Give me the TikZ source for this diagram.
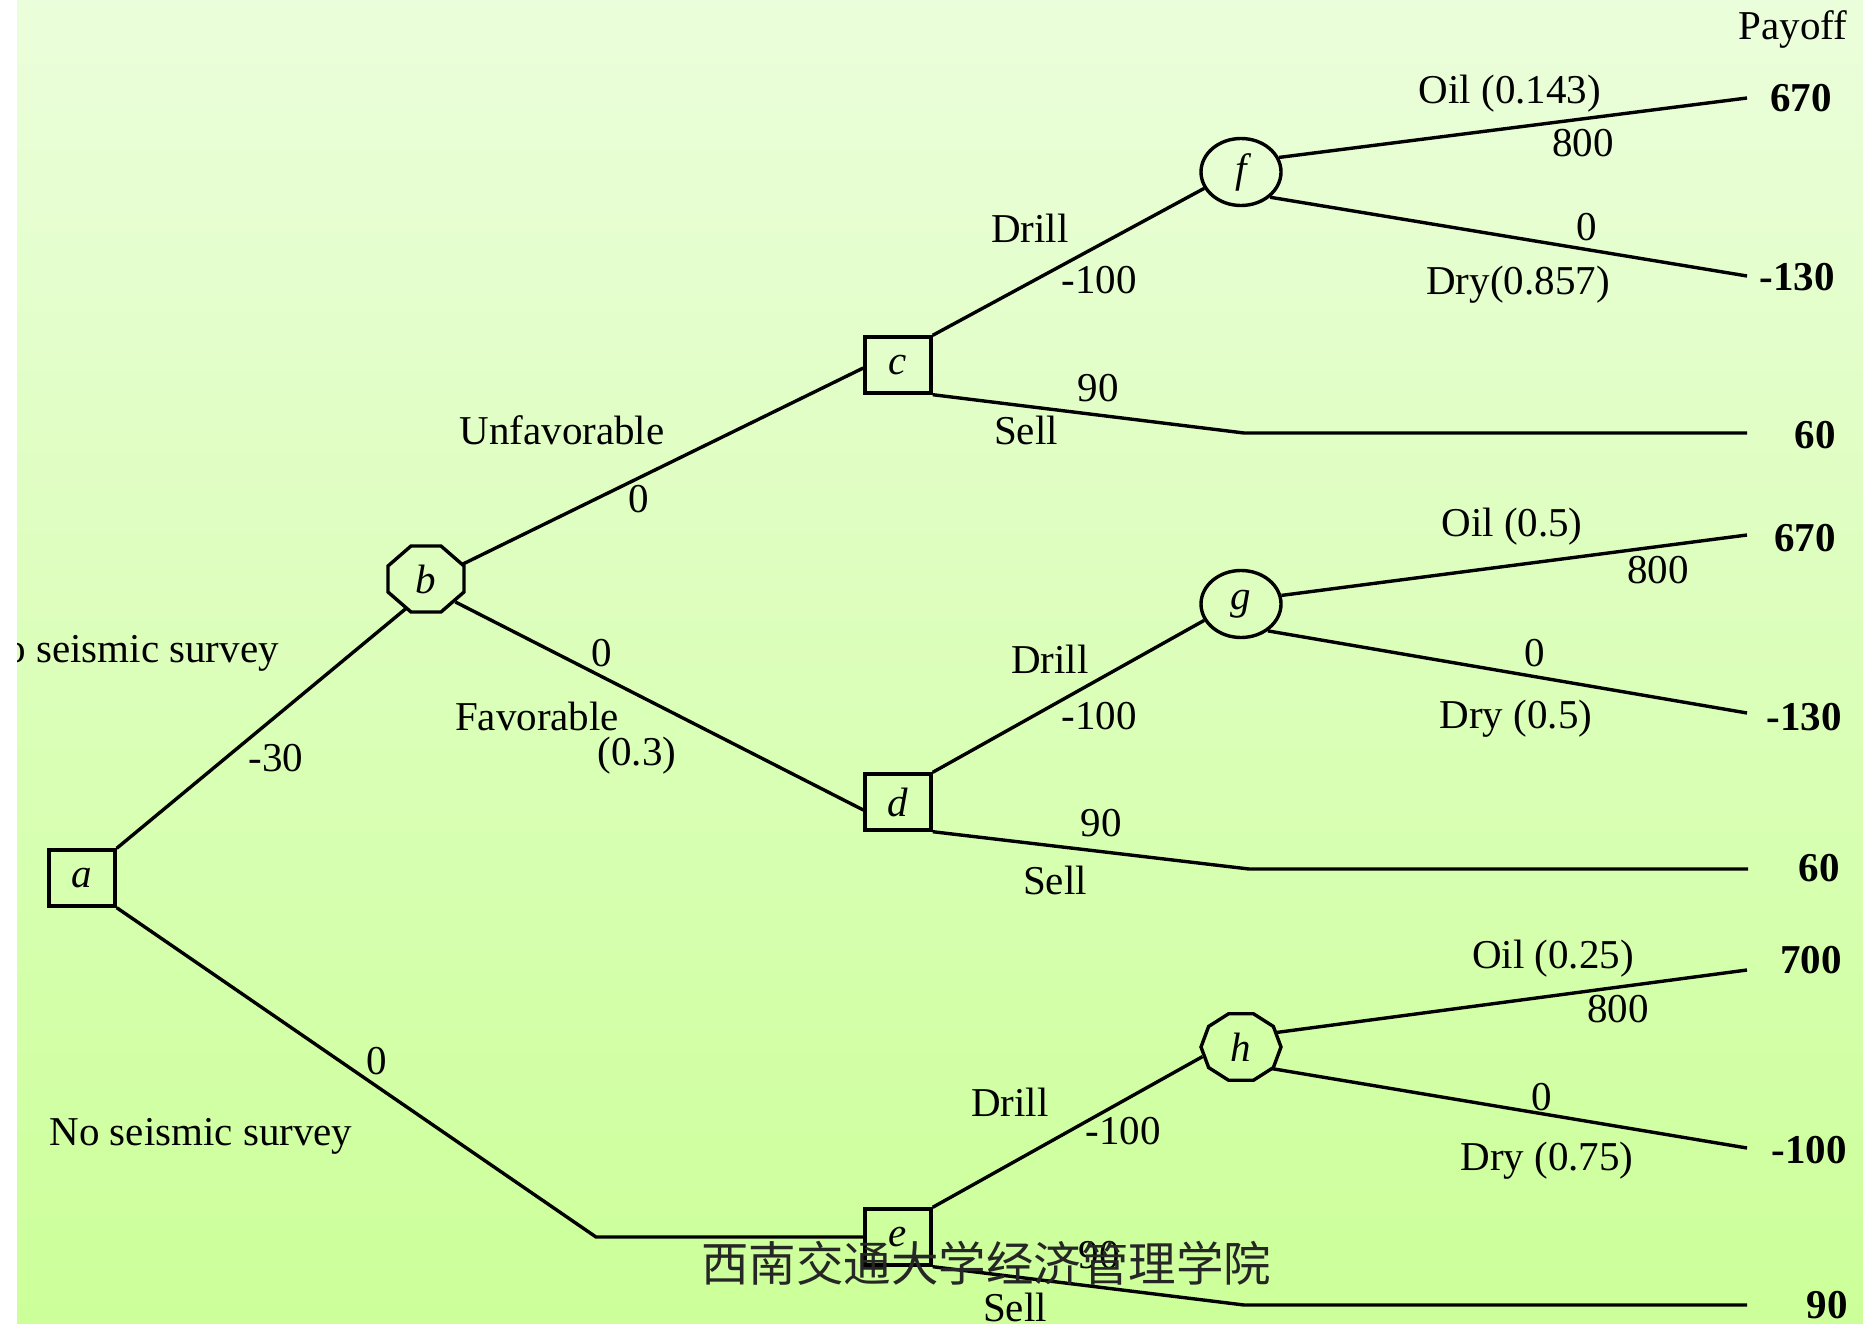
\documentclass[tikz,border=0pt]{standalone}
\usepackage{fontspec}
\setmainfont{Liberation Serif}
\newfontfamily\cjk{Noto Sans CJK SC}
\usetikzlibrary{shapes.geometric}
\begin{document}
\begin{tikzpicture}[x=1pt,y=-1pt,
  lw/.style={line width=3.4pt},
  every node/.style={inner sep=0pt},
  txt/.style={font=\fontsize{41}{48}\selectfont},
  pay/.style={font=\fontsize{41}{48}\selectfont\bfseries},
  decbox/.style={draw, lw, minimum width=66pt, minimum height=56pt, font=\fontsize{41}{48}\selectfont\itshape},
  chance/.style={ellipse, minimum width=80pt, minimum height=67pt, font=\fontsize{41}{48}\selectfont\itshape},
  chancedraw/.style={chance, draw, lw}
]
\useasboundingbox (0,0) rectangle (1863,1324);
\fill[white] (0,0) rectangle (1863,1324);
\shade[top color={rgb,255:red,235;green,254;blue,219}, bottom color={rgb,255:red,204;green,255;blue,153}] (17,0) rectangle (1863,1324);

% nodes
\node[decbox] (a) at (82,878) {a};
\node[chance] (b) at (426,579) {b};
\node[decbox] (c) at (898,365) {c};
\node[decbox] (d) at (898,802) {d};
\node[decbox] (e) at (898,1237) {e};
\node[chancedraw] (f) at (1241,172) {f};
\node[chancedraw] (g) at (1241,604) {g};
\node[chance] (h) at (1241,1047) {h};

% polygon outlines of b and h
\draw[lw, shift={(b.center)}] (-15,-33) -- (15,-33) -- (38,-13) -- (38,13) -- (15,33) -- (-15,33) -- (-38,13) -- (-38,-13) -- cycle;
\draw[lw, shift={(h.center)}] (0:40pt and 35pt) \foreach \k in {1,...,9} { -- (\k*36:40pt and 35pt) } -- cycle;

% coordinates
\coordinate (as) at (596,1237);
\coordinate (cs) at (1244,433);
\coordinate (ce) at (1747,433);
\coordinate (ds) at (1249,869);
\coordinate (de) at (1748,869);
\coordinate (es) at (1244,1305);
\coordinate (ee) at (1747,1305);
\coordinate (fo) at (1747,98);
\coordinate (fd) at (1747,276);
\coordinate (go) at (1747,535);
\coordinate (gd) at (1747,713);
\coordinate (ho) at (1747,970);
\coordinate (hd) at (1747,1148);

% connectors
\draw[lw] (a.north east) -- (b.236);
\draw[lw] (a.south east) -- (as) -- (e.west);
\draw[lw] (b.22) -- ([yshift=-3pt]c.west);
\draw[lw] (b.-38) -- ([yshift=-8pt]d.west);
\draw[lw] (c.north east) -- (f.204);
\draw[lw] (c.south east) -- (cs) -- (ce);
\draw[lw] (d.north east) -- (g.204);
\draw[lw] (d.south east) -- (ds) -- (de);
\draw[lw] (e.north east) -- (h.194);
\draw[lw] (e.south east) -- (es) -- (ee);
\draw[lw] (f.21) -- (fo);
\draw[lw] (f.-41) -- (fd);
\draw[lw] (g.12) -- (go);
\draw[lw] (g.-45) -- (gd);
\draw[lw] (h.22) -- (ho);
\draw[lw] (h.-35) -- (hd);

% payoffs
\node[txt] (payoff) at (1793,29) {Payoff};
\node[pay] (p1) at (1801,98) {670};
\node[pay] (p2) at (1797,277) {-130};
\node[pay] (p3) at (1815,435) {60};
\node[pay] (p4) at (1805,538) {670};
\node[pay] (p5) at (1804,717) {-130};
\node[pay] (p6) at (1819,868) {60};
\node[pay] (p7) at (1811,960) {700};
\node[pay] (p8) at (1809,1150) {-100};
\node[pay] (p9) at (1827,1305) {90};

% labels f branch
\node[txt] (l1) at (1510,94) {Oil (0.143)};
\node[txt] (l2) at (1583,143) {800};
\node[txt] (l3) at (1587,227) {0};
\node[txt] (l4) at (1518,285) {Dry(0.857)};
\node[txt] (l5) at (1030,228) {Drill};
\node[txt] (l6) at (1099,280) {-100};
\node[txt] (l7) at (1098,388) {90};
\node[txt] (l8) at (1026,430) {Sell};
% b branch
\node[txt] (l9) at (562,430) {Unfavorable};
\node[txt] (l10) at (639,499) {0};
\node[txt] (l11) at (602,653) {0};
\node[txt] (l12) at (537,716) {Favorable};
\node[txt] (l13) at (637,756) {(0.3)};
% a branch
\begin{scope}
\clip (17,0) rectangle (1863,1324);
\node[txt, anchor=east] (l14) at (279,653) {Do seismic survey};
\end{scope}
\node[txt] (l15) at (276,758) {-30};
\node[txt] (l16) at (377,1061) {0};
\node[txt] (l17) at (201,1136) {No seismic survey};
% g branch
\node[txt] (l18) at (1050,659) {Drill};
\node[txt] (l19) at (1099,716) {-100};
\node[txt] (l20) at (1512,527) {Oil (0.5)};
\node[txt] (l21) at (1658,570) {800};
\node[txt] (l22) at (1535,653) {0};
\node[txt] (l23) at (1516,719) {Dry (0.5)};
\node[txt] (l24) at (1101,823) {90};
\node[txt] (l25) at (1055,880) {Sell};
% h branch
\node[txt] (l26) at (1010,1102) {Drill};
\node[txt] (l27) at (1123,1131) {-100};
\node[txt] (l28) at (1553,959) {Oil (0.25)};
\node[txt] (l29) at (1618,1009) {800};
\node[txt] (l30) at (1542,1097) {0};
\node[txt] (l31) at (1547,1161) {Dry (0.75)};
\node[txt] (l32) at (1099,1255) {90};
\node[txt] (l33) at (1015,1307) {Sell};

% footer
\node[font=\cjk\fontsize{47.5}{54}\selectfont, text=black!85] (foot) at (986,1263) {西南交通大学经济管理学院};
\end{tikzpicture}
\end{document}
